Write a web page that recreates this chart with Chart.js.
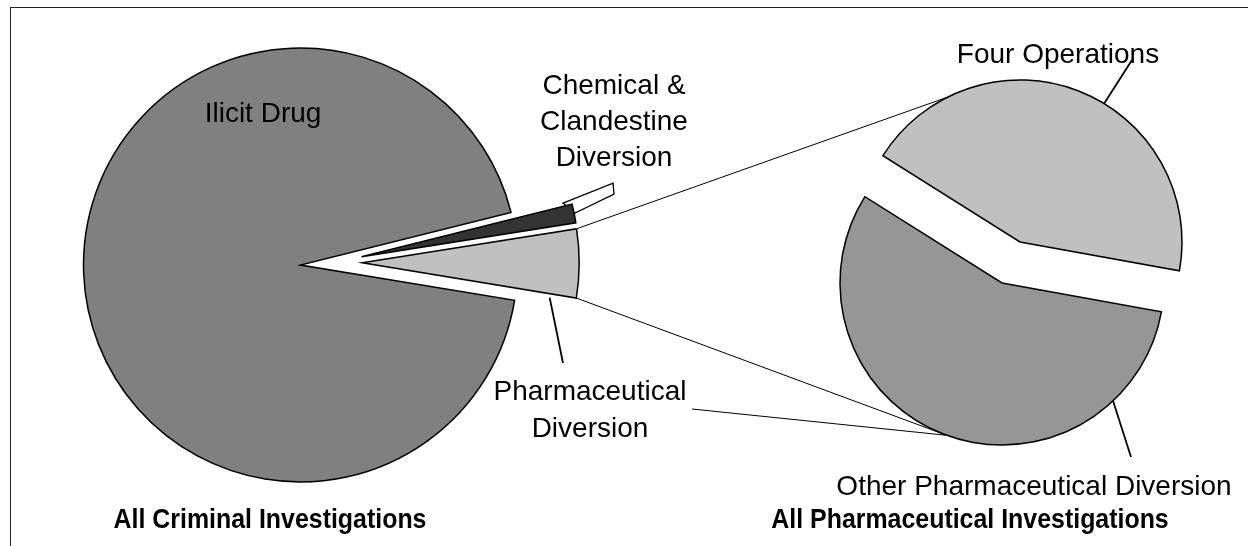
<!DOCTYPE html>
<html>
<head>
<meta charset="utf-8">
<script src="https://cdn.jsdelivr.net/npm/chart.js@4.4.1/dist/chart.umd.min.js"></script>
<style>
  html, body { margin: 0; padding: 0; background: #fff; }
  #wrap { position: relative; width: 1248px; height: 546px; overflow: hidden; }
  #frame { position: absolute; left: 10px; top: 7px; width: 1400px; height: 700px;
           border-left: 1px solid #222; border-top: 1px solid #222; }
  canvas { position: absolute; left: 0; top: 0; }
</style>
</head>
<body>
<div id="wrap">
  <div id="frame"></div>
  <canvas id="mainPie" width="1248" height="546"></canvas>
  <canvas id="splitPie" width="1248" height="546"></canvas>
</div>
<script>
// data: share of all criminal investigations, and split of pharmaceutical ones
const mainLabels = ['Ilicit Drug', 'Chemical & Clandestine Diversion', 'Pharmaceutical Diversion'];
const mainValues = [93.5, 1.4, 5.1];
const splitLabels = ['Four Operations', 'Other Pharmaceutical Diversion'];
const splitValues = [43.9, 56.1];

// styling
const mainColors = ['#808080', '#333333', '#c0c0c0'];
const splitColors = ['#c0c0c0', '#969696'];
const mainExplode = [[0, 0], [61, -8.3], [61.7, -2.3]];
const splitExplode = [[9, -20.5], [-9, 20.5]];

const FONT = '"Liberation Sans", Arial, sans-serif';
const rad = d => d * Math.PI / 180;

// geometry of a (shifted) slice
function slice(chart, i, shifts) {
  const a = chart.getDatasetMeta(0).data[i];
  const cx = a.x + shifts[i][0], cy = a.y + shifts[i][1], r = a.outerRadius;
  return {
    cx, cy, r, start: a.startAngle, end: a.endAngle,
    at(ang, rr = r) { return [cx + Math.cos(ang) * rr, cy + Math.sin(ang) * rr]; }
  };
}

// draw each arc moved by its own explode vector
const explode = {
  id: 'explode',
  beforeDatasetDraw(chart, args, opts) {
    const ctx = chart.ctx;
    args.meta.data.forEach((arc, i) => {
      const [dx, dy] = opts.shifts[i];
      ctx.save();
      ctx.translate(dx, dy);
      arc.draw(ctx);
      ctx.restore();
    });
    return false;
  }
};

// little white tag behind the chemical slice tip
const chemTag = {
  id: 'chemTag',
  beforeDatasetsDraw(chart) {
    const ctx = chart.ctx;
    const chem = slice(chart, 1, mainExplode);
    const [tx, ty] = chem.at(chem.start);
    const pts = [[-9, -1], [41, -21], [42, -10], [3, 9]];
    ctx.save();
    ctx.beginPath();
    pts.forEach(([x, y], k) => k ? ctx.lineTo(tx + x, ty + y) : ctx.moveTo(tx + x, ty + y));
    ctx.closePath();
    ctx.fillStyle = '#fff';
    ctx.fill();
    ctx.lineWidth = 1.3;
    ctx.strokeStyle = '#000';
    ctx.stroke();
    ctx.restore();
  }
};

function line(ctx, p, q, w) {
  ctx.beginPath();
  ctx.moveTo(p[0], p[1]);
  ctx.lineTo(q[0], q[1]);
  ctx.lineWidth = w;
  ctx.stroke();
}

function text(ctx, s, x, y, bold) {
  ctx.save();
  ctx.translate(x, y);
  if (bold) {
    ctx.font = 'bold 28px ' + FONT;
    ctx.scale(0.89, 1);
  } else {
    ctx.font = '28px ' + FONT;
  }
  ctx.fillText(s, 0, 0);
  ctx.restore();
}

// series lines, leader lines and labels
const callouts = {
  id: 'callouts',
  afterDraw(chart) {
    const ctx = chart.ctx;
    const pharma = slice(mainChart, 2, mainExplode);
    const four = slice(chart, 0, splitExplode);
    const other = slice(chart, 1, splitExplode);

    ctx.save();
    ctx.strokeStyle = '#000';
    ctx.fillStyle = '#000';
    ctx.textAlign = 'center';
    ctx.textBaseline = 'alphabetic';

    const topEnd = four.at(rad(243.3));
    const botEnd = other.at(rad(109.9));
    line(ctx, pharma.at(pharma.start), topEnd, 1);
    line(ctx, pharma.at(pharma.end), botEnd, 1);
    line(ctx, [692, 409], botEnd, 1);

    // leaders
    const pb = pharma.at(pharma.end, 190);
    line(ctx, [pb[0], pb[1] + 4], [563, 363], 1.8);
    line(ctx, four.at(rad(-58.7)), [1132, 60], 1.8);
    line(ctx, other.at(rad(46.7)), [1131, 457], 1.8);

    text(ctx, mainLabels[0], 263, 122);
    text(ctx, 'Chemical &', 614, 94);
    text(ctx, 'Clandestine', 614, 130);
    text(ctx, 'Diversion', 614, 166);
    text(ctx, 'Pharmaceutical', 590, 400);
    text(ctx, 'Diversion', 590, 437);
    text(ctx, splitLabels[0], 1058, 63);
    text(ctx, splitLabels[1], 1034, 495);
    text(ctx, 'All Criminal Investigations', 270, 528, true);
    text(ctx, 'All Pharmaceutical Investigations', 970, 528, true);
    ctx.restore();
  }
};

const baseOptions = {
  responsive: false,
  animation: false,
  devicePixelRatio: 1,
  events: []
};

const mainChart = new Chart(document.getElementById('mainPie'), {
  type: 'pie',
  data: {
    labels: mainLabels,
    datasets: [{
      data: mainValues,
      backgroundColor: mainColors,
      borderColor: '#000',
      borderWidth: 1.5,
      borderJoinStyle: 'miter'
    }]
  },
  options: {
    ...baseOptions,
    rotation: 99.37,
    radius: 217,
    layout: { padding: { left: 0, right: 647, top: 0, bottom: 16 } },
    plugins: {
      legend: { display: false },
      tooltip: { enabled: false },
      explode: { shifts: mainExplode }
    }
  },
  plugins: [explode, chemTag]
});

const splitChart = new Chart(document.getElementById('splitPie'), {
  type: 'pie',
  data: {
    labels: splitLabels,
    datasets: [{
      data: splitValues,
      backgroundColor: splitColors,
      borderColor: '#000',
      borderWidth: 1.5,
      borderJoinStyle: 'miter'
    }]
  },
  options: {
    ...baseOptions,
    rotation: 302.2,
    radius: 162,
    layout: { padding: { left: 774, right: 0, top: 0, bottom: 21 } },
    plugins: {
      legend: { display: false },
      tooltip: { enabled: false },
      explode: { shifts: splitExplode }
    }
  },
  plugins: [explode, callouts]
});
</script>
</body>
</html>
